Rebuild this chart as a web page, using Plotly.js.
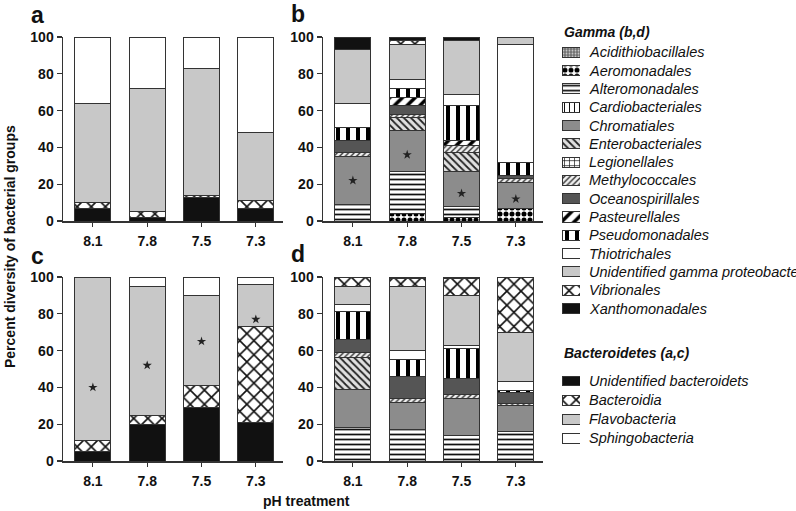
<!DOCTYPE html>
<html>
<head>
<meta charset="utf-8">
<script src="https://cdn.plot.ly/plotly-3.0.1.min.js"></script>
<style>html,body{margin:0;padding:0;background:#fff;}#chart{width:796px;height:511px;}</style>
</head>
<body>
<div id="chart"></div>
<script>
// ---- data ----
const categories = ['8.1', '7.8', '7.5', '7.3'];

const gammaNames = ['Acidithiobacillales','Aeromonadales','Alteromonadales','Cardiobacteriales','Chromatiales','Enterobacteriales','Legionellales','Methylococcales','Oceanospirillales','Pasteurellales','Pseudomonadales','Thiotrichales','Unidentified gamma proteobacteria','Vibrionales','Xanthomonadales'];

// panel b (percent, per pH treatment)
const gammaB_Acidithiobacillales = [0, 0, 0, 0];
const gammaB_Aeromonadales       = [0, 4, 2, 7];
const gammaB_Alteromonadales     = [9, 23, 6, 0];
const gammaB_Cardiobacteriales   = [0, 0, 0, 0];
const gammaB_Chromatiales        = [26, 22, 19, 14];
const gammaB_Enterobacteriales   = [0, 7, 10, 0];
const gammaB_Legionellales       = [0, 0, 0, 0];
const gammaB_Methylococcales     = [2, 2, 4, 2];
const gammaB_Oceanospirillales   = [7, 5, 0, 2];
const gammaB_Pasteurellales      = [0, 4, 3, 0];
const gammaB_Pseudomonadales     = [7, 5, 19, 7];
const gammaB_Thiotrichales       = [13, 5, 6, 64];
const gammaB_Unidentified        = [29, 19, 29, 4];
const gammaB_Vibrionales         = [0, 2, 0, 0];
const gammaB_Xanthomonadales     = [7, 2, 2, 0];

// panel d
const gammaD_Acidithiobacillales = [0, 0, 0, 0];
const gammaD_Aeromonadales       = [0, 0, 0, 0];
const gammaD_Alteromonadales     = [18, 17, 14, 16];
const gammaD_Cardiobacteriales   = [0, 0, 0, 0];
const gammaD_Chromatiales        = [21, 15, 20, 14];
const gammaD_Enterobacteriales   = [17, 0, 0, 0];
const gammaD_Legionellales       = [0, 0, 0, 0];
const gammaD_Methylococcales     = [3, 2, 2, 1.5];
const gammaD_Oceanospirillales   = [7, 12, 9, 5.5];
const gammaD_Pasteurellales      = [0, 0, 0, 0];
const gammaD_Pseudomonadales     = [15, 9, 16, 1.5];
const gammaD_Thiotrichales       = [4, 5, 2, 4.5];
const gammaD_Unidentified        = [10, 35, 27, 27];
const gammaD_Vibrionales         = [5, 4, 9, 30];
const gammaD_Xanthomonadales     = [0, 1, 1, 0];

const bactNames = ['Unidentified bacteroidets', 'Bacteroidia', 'Flavobacteria', 'Sphingobacteria'];
// panel a
const bactA_Unidentified   = [7, 2, 13, 7];
const bactA_Bacteroidia    = [3, 3, 1, 4];
const bactA_Flavobacteria  = [54, 67, 69, 37];
const bactA_Sphingo        = [36, 28, 17, 52];
// panel c
const bactC_Unidentified   = [5, 20, 29, 21];
const bactC_Bacteroidia    = [6, 5, 12, 52];
const bactC_Flavobacteria  = [89, 70, 49, 23];
const bactC_Sphingo        = [0, 5, 10, 4];

// significance stars (y position in %)
const starsB = [22, 36, 15, 12];
const starsC = [40, 52, 65, 77];

const panelLetters = ['a', 'b', 'c', 'd'];
const groupTitles = ['Gamma (b,d)', 'Bacteroidetes (a,c)'];
const yTitle = 'Percent diversity of bacterial groups';
const xTitle = 'pH treatment';

// ---- styles ----
const gammaStyles = [
  {color:'#7a7a7a', pattern:{shape:'.', fgcolor:'#cfcfcf', bgcolor:'#6f6f6f', size:3, solidity:0.3}},
  {color:'#ffffff', pattern:{shape:'.', fgcolor:'#000', bgcolor:'#fff', size:6, solidity:0.55}},
  {color:'#ffffff', pattern:{shape:'-', fgcolor:'#111', bgcolor:'#fff', size:5, solidity:0.35}},
  {color:'#ffffff', pattern:{shape:'|', fgcolor:'#111', bgcolor:'#fff', size:5, solidity:0.2}},
  {color:'#8c8c8c'},
  {color:'#ffffff', pattern:{shape:'\\', fgcolor:'#222', bgcolor:'#e0e0e0', size:5, solidity:0.35}},
  {color:'#ffffff', pattern:{shape:'+', fgcolor:'#111', bgcolor:'#fff', size:5, solidity:0.25}},
  {color:'#ffffff', pattern:{shape:'/', fgcolor:'#333', bgcolor:'#f0f0f0', size:4, solidity:0.35}},
  {color:'#555555'},
  {color:'#ffffff', pattern:{shape:'/', fgcolor:'#000', bgcolor:'#fff', size:9, solidity:0.4}},
  {color:'#ffffff', pattern:{shape:'|', fgcolor:'#000', bgcolor:'#fff', size:10, solidity:0.4}},
  {color:'#ffffff'},
  {color:'#c8c8c8'},
  {color:'#ffffff', pattern:{shape:'x', fgcolor:'#111', bgcolor:'#fff', size:10, solidity:0.3}},
  {color:'#111111'}
];
const bactStyles = [
  {color:'#111111'},
  {color:'#ffffff', pattern:{shape:'x', fgcolor:'#111', bgcolor:'#fff', size:10, solidity:0.3}},
  {color:'#c8c8c8'},
  {color:'#ffffff'}
];

const gammaB = [gammaB_Acidithiobacillales, gammaB_Aeromonadales, gammaB_Alteromonadales, gammaB_Cardiobacteriales, gammaB_Chromatiales, gammaB_Enterobacteriales, gammaB_Legionellales, gammaB_Methylococcales, gammaB_Oceanospirillales, gammaB_Pasteurellales, gammaB_Pseudomonadales, gammaB_Thiotrichales, gammaB_Unidentified, gammaB_Vibrionales, gammaB_Xanthomonadales];
const gammaD = [gammaD_Acidithiobacillales, gammaD_Aeromonadales, gammaD_Alteromonadales, gammaD_Cardiobacteriales, gammaD_Chromatiales, gammaD_Enterobacteriales, gammaD_Legionellales, gammaD_Methylococcales, gammaD_Oceanospirillales, gammaD_Pasteurellales, gammaD_Pseudomonadales, gammaD_Thiotrichales, gammaD_Unidentified, gammaD_Vibrionales, gammaD_Xanthomonadales];
const bactA = [bactA_Unidentified, bactA_Bacteroidia, bactA_Flavobacteria, bactA_Sphingo];
const bactC = [bactC_Unidentified, bactC_Bacteroidia, bactC_Flavobacteria, bactC_Sphingo];

const FONT = 'Liberation Sans, Arial, sans-serif';
const traces = [];

function markerOf(style) {
  const m = {color: style.color, line: {color: '#333', width: 1}};
  if (style.pattern) m.pattern = Object.assign({fillmode: 'replace'}, style.pattern);
  return m;
}
function bar(name, vals, style, xa, ya) {
  return {type: 'bar', name: name, x: categories, y: vals, xaxis: xa, yaxis: ya,
    marker: markerOf(style), showlegend: false, hoverinfo: 'name+y'};
}
// legend swatch: one small horizontal bar per taxon on a hidden legend axis
function swatch(name, style, xa, ya, w) {
  return {type: 'bar', orientation: 'h', name: name, y: [name], x: [1], width: w, xaxis: xa, yaxis: ya,
    marker: markerOf(style), showlegend: false, hoverinfo: 'skip'};
}

gammaNames.forEach((n, i) => traces.push(bar(n, gammaB[i], gammaStyles[i], 'x2', 'y2')));
gammaNames.forEach((n, i) => traces.push(bar(n, gammaD[i], gammaStyles[i], 'x4', 'y4')));
bactNames.forEach((n, i) => traces.push(bar(n, bactA[i], bactStyles[i], 'x', 'y')));
bactNames.forEach((n, i) => traces.push(bar(n, bactC[i], bactStyles[i], 'x3', 'y3')));
gammaNames.forEach((n, i) => traces.push(swatch(n, gammaStyles[i], 'x5', 'y5', 0.55)));
bactNames.forEach((n, i) => traces.push(swatch(n, bactStyles[i], 'x5', 'y6', 0.52)));

function stars(vals, xa, ya) {
  return {type: 'scatter', mode: 'markers', x: categories, y: vals, xaxis: xa, yaxis: ya,
    marker: {symbol: 'star', size: 7, color: '#222'}, showlegend: false, hoverinfo: 'skip'};
}
traces.push(stars(starsB, 'x2', 'y2'));
traces.push(stars(starsC, 'x3', 'y3'));

const W = 796, H = 511;
const xdomA = [63 / W, 283 / W], xdomB = [323 / W, 543 / W];
const ydomTop = [1 - 221 / H, 1 - 37 / H], ydomBot = [1 - 461 / H, 1 - 277 / H];

const tickFont = {family: FONT, size: 14, weight: 'bold', color: '#111'};
function xax(dom, anchor) {
  return {domain: dom, anchor: anchor, type: 'category', range: [-0.55, 3.5],
    showline: true, linecolor: '#333', linewidth: 1.5, ticks: 'outside', ticklen: 4, tickwidth: 1.2, tickcolor: '#333',
    ticklabelstandoff: 3, tickfont: tickFont, showgrid: false, zeroline: false, fixedrange: true};
}
function yax(dom, anchor) {
  return {domain: dom, anchor: anchor, range: [0, 100], dtick: 20,
    showline: true, linecolor: '#333', linewidth: 1.5, ticks: 'outside', ticklen: 5, tickwidth: 1.2, tickcolor: '#333',
    tickfont: tickFont, showgrid: false, zeroline: false, fixedrange: true};
}
function hidden(extra) {
  return Object.assign({visible: false, fixedrange: true, showgrid: false, zeroline: false}, extra);
}

const letterFont = {family: FONT, size: 23, weight: 'bold', color: '#111'};
const boldFont = {family: FONT, size: 14, weight: 'bold', color: '#111'};
const titleFont = {family: FONT, size: 14, weight: 'bold', style: 'italic', color: '#111'};
const itemFont = {family: FONT, size: 14.5, style: 'italic', color: '#111'};
function ann(text, px, py, font, extra) {
  return Object.assign({text: text, x: px / W, y: 1 - py / H, xref: 'paper', yref: 'paper',
    showarrow: false, xanchor: 'center', yanchor: 'middle', font: font}, extra || {});
}

// legend row geometry (pixels from top)
const gTop = 52.3, gStep = 18.3, bTop = 381, bStep = 19.1;

const annotations = [
  ann(panelLetters[0], 37, 15, letterFont),
  ann(panelLetters[1], 298, 14, letterFont),
  ann(panelLetters[2], 37, 256, letterFont),
  ann(panelLetters[3], 298, 254, letterFont),
  ann(yTitle, 10, 247, boldFont, {textangle: -90}),
  ann(xTitle, 306, 501, boldFont),
  ann(groupTitles[0], 562, 32, titleFont, {xanchor: 'left'}),
  ann(groupTitles[1], 562, 353, titleFont, {xanchor: 'left'})
];
gammaNames.forEach(n => annotations.push({text: n, x: 587 / W, xref: 'paper', y: n, yref: 'y5',
  showarrow: false, xanchor: 'left', yanchor: 'middle', font: itemFont}));
bactNames.forEach(n => annotations.push({text: n, x: 587 / W, xref: 'paper', y: n, yref: 'y6',
  showarrow: false, xanchor: 'left', yanchor: 'middle', font: itemFont}));

const layout = {
  width: W, height: H,
  margin: {l: 0, r: 0, t: 0, b: 0, autoexpand: false},
  paper_bgcolor: '#fff', plot_bgcolor: 'rgba(0,0,0,0)',
  barmode: 'stack', bargap: 0.337,
  showlegend: false,
  xaxis: xax(xdomA, 'y'), yaxis: yax(ydomTop, 'x'),
  xaxis2: xax(xdomB, 'y2'), yaxis2: yax(ydomTop, 'x2'),
  xaxis3: xax(xdomA, 'y3'), yaxis3: yax(ydomBot, 'x3'),
  xaxis4: xax(xdomB, 'y4'), yaxis4: yax(ydomBot, 'x4'),
  xaxis5: hidden({domain: [562 / W, 580 / W], range: [0, 1], anchor: 'y5'}),
  yaxis5: hidden({domain: [1 - (gTop + 14.5 * gStep) / H, 1 - (gTop - 0.5 * gStep) / H], type: 'category',
    categoryarray: gammaNames, categoryorder: 'array', range: [14.5, -0.5], anchor: 'x5'}),
  yaxis6: hidden({domain: [1 - (bTop + 3.5 * bStep) / H, 1 - (bTop - 0.5 * bStep) / H], type: 'category',
    categoryarray: bactNames, categoryorder: 'array', range: [3.5, -0.5], anchor: 'x5'}),
  annotations: annotations
};

Plotly.newPlot('chart', traces, layout, {displayModeBar: false, staticPlot: true});
</script>
</body>
</html>
